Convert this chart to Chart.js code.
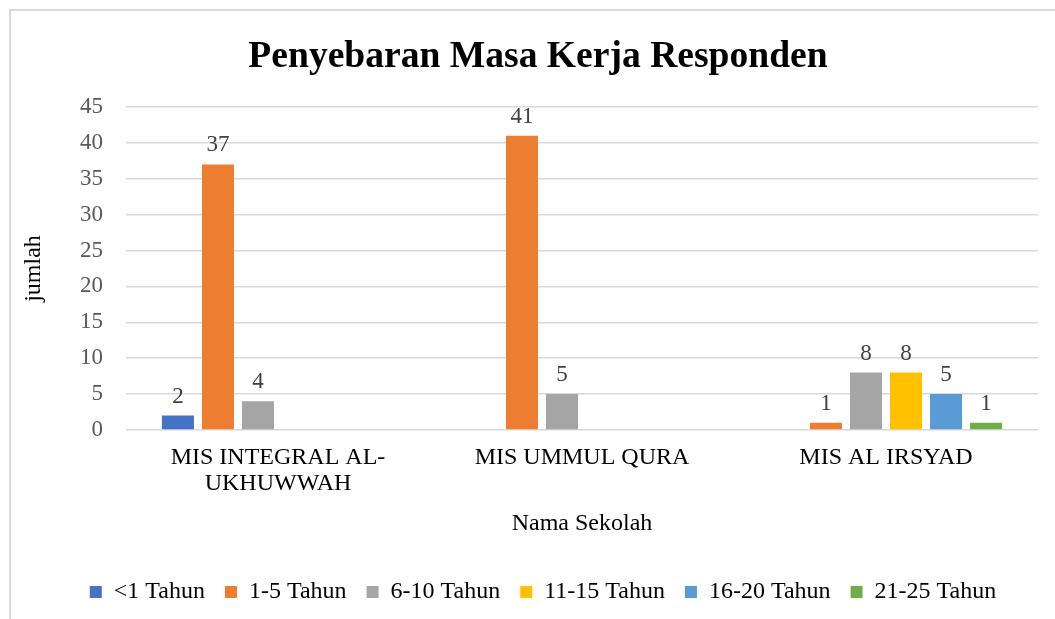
<!DOCTYPE html>
<html>
<head>
<meta charset="utf-8">
<script src="https://cdn.jsdelivr.net/npm/chart.js@4.4.0/dist/chart.umd.min.js"></script>
<style>
  html, body { margin: 0; padding: 0; background: #fff; }
  #wrap { position: relative; width: 1055px; height: 619px; }
  #frame {
    position: absolute; left: 9px; top: 9px; right: 0; bottom: 0;
    border-top: 2px solid #d9d9d9; border-left: 2px solid #d9d9d9;
    pointer-events: none;
  }
  canvas { position: absolute; left: 0; top: 0; }
</style>
</head>
<body>
<div id="wrap">
  <canvas id="masaKerja" width="1055" height="619"></canvas>
  <div id="frame"></div>
</div>
<script>
// schools (categories)
const sekolah = [["MIS INTEGRAL AL-", "UKHUWWAH"], "MIS UMMUL QURA", "MIS AL IRSYAD"]

// series: years of service, null = no bar
const kurang1 = [2, null, null]
const tahun1_5 = [37, 41, 1]
const tahun6_10 = [4, 5, 8]
const tahun11_15 = [null, null, 8]
const tahun16_20 = [null, null, 5]
const tahun21_25 = [null, null, 1]

const seriesNames = ["<1 Tahun", "1-5 Tahun", "6-10 Tahun", "11-15 Tahun", "16-20 Tahun", "21-25 Tahun"]
const seriesColors = ["#4472C4", "#ED7D31", "#A5A5A5", "#FFC000", "#5B9BD5", "#70AD47"]
const yTicks = [0, 5, 10, 15, 20, 25, 30, 35, 40, 45]

const serif = "'Liberation Serif', 'Times New Roman', serif"

/**
 * Draws the value on top of each bar
 */
const valueLabels = {
  id: "valueLabels",
  afterDatasetsDraw(chart) {
    const ctx = chart.ctx
    ctx.save()
    ctx.font = "23px " + serif
    ctx.fillStyle = "#404040"
    ctx.textAlign = "center"
    ctx.textBaseline = "alphabetic"
    chart.data.datasets.forEach((ds, i) => {
      const meta = chart.getDatasetMeta(i)
      meta.data.forEach((bar, j) => {
        if (ds.data[j] === null) return
        ctx.fillText(String(ds.data[j]), bar.x, bar.y - 13)
      })
    })
    ctx.restore()
  }
}

/**
 * Nudges title and legend a bit right, like the original
 */
const shiftBlocks = {
  id: "shiftBlocks",
  afterLayout(chart) {
    if (chart.titleBlock) {
      chart.titleBlock.left += 14
      chart.titleBlock.right += 14
    }
    if (chart.legend) {
      chart.legend.left += 19
      chart.legend.right += 19
    }
  }
}

const allSeries = [kurang1, tahun1_5, tahun6_10, tahun11_15, tahun16_20, tahun21_25]

const canvas = document.getElementById("masaKerja")
new Chart(canvas.getContext("2d"), {
  type: "bar",
  data: {
    labels: sekolah,
    datasets: allSeries.map((vals, i) => ({
      label: seriesNames[i],
      data: vals,
      backgroundColor: seriesColors[i],
      borderWidth: 0,
      categoryPercentage: 0.79,
      barPercentage: 0.8
    }))
  },
  options: {
    responsive: false,
    animation: false,
    devicePixelRatio: 1,
    layout: {
      padding: { left: 10, right: 17, top: 10, bottom: 5 }
    },
    scales: {
      x: {
        grid: { display: false, drawTicks: false },
        border: { display: false },
        ticks: {
          color: "#000",
          padding: 15,
          font: { family: serif, size: 24, lineHeight: 1.09 }
        },
        title: {
          display: true,
          text: "Nama Sekolah",
          color: "#000",
          font: { family: serif, size: 24 },
          padding: { top: -3, bottom: 22 }
        }
      },
      y: {
        min: 0,
        max: 45,
        afterBuildTicks: (scale) => {
          scale.ticks = yTicks.map(v => ({ value: v }))
        },
        afterFit: (scale) => {
          scale.width = 116
        },
        grid: { color: "#d9d9d9", lineWidth: 1.5, drawTicks: false },
        border: { display: false },
        ticks: {
          color: "#595959",
          padding: 23,
          font: { family: serif, size: 23 }
        },
        title: {
          display: true,
          text: "jumlah",
          color: "#000",
          font: { family: serif, size: 24 },
          padding: { top: 9, bottom: 20 }
        }
      }
    },
    plugins: {
      title: {
        display: true,
        text: "Penyebaran Masa Kerja Responden",
        color: "#000",
        font: { family: serif, size: 37.6, weight: "bold" },
        padding: { top: 25, bottom: 27 }
      },
      legend: {
        position: "bottom",
        labels: {
          color: "#000",
          boxWidth: 12,
          boxHeight: 12,
          padding: 20,
          font: { family: serif, size: 24 }
        }
      },
      tooltip: { enabled: false }
    }
  },
  plugins: [valueLabels, shiftBlocks]
})
</script>
</body>
</html>
